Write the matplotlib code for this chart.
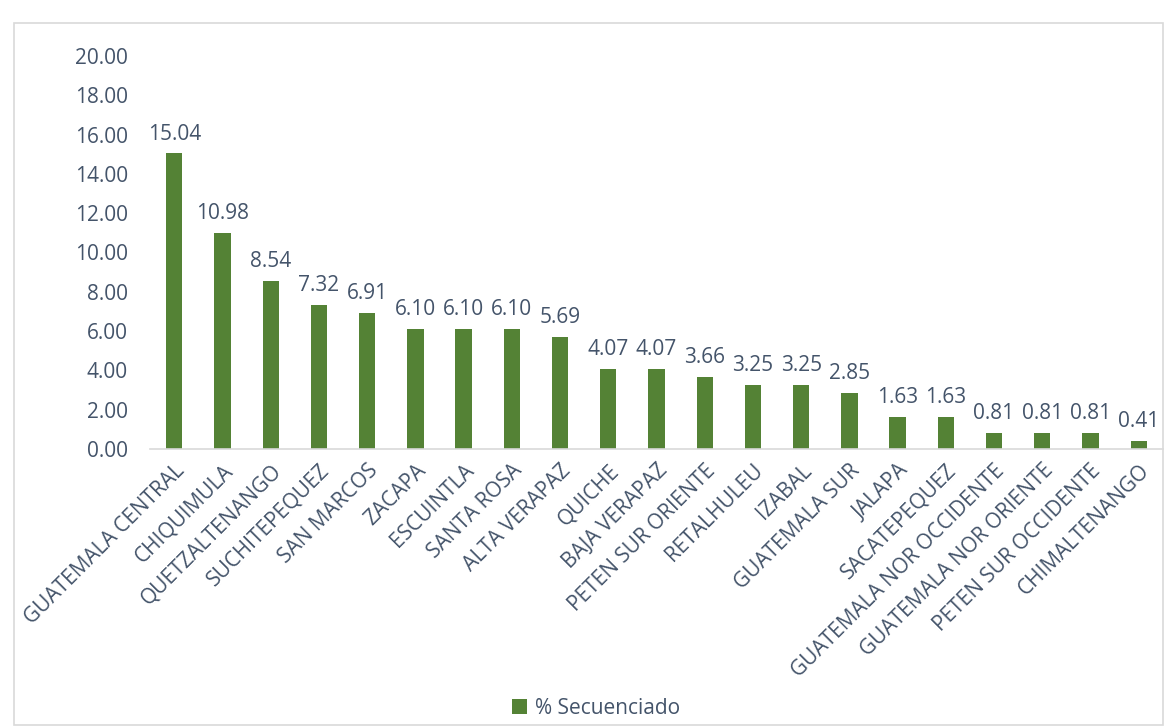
import matplotlib
matplotlib.use("Agg")
import matplotlib.pyplot as plt
from matplotlib.patches import Rectangle

categories = ["GUATEMALA CENTRAL", "CHIQUIMULA", "QUETZALTENANGO", "SUCHITEPEQUEZ",
              "SAN MARCOS", "ZACAPA", "ESCUINTLA", "SANTA ROSA", "ALTA VERAPAZ",
              "QUICHE", "BAJA VERAPAZ", "PETEN SUR ORIENTE", "RETALHULEU", "IZABAL",
              "GUATEMALA SUR", "JALAPA", "SACATEPEQUEZ", "GUATEMALA NOR OCCIDENTE",
              "GUATEMALA NOR ORIENTE", "PETEN SUR OCCIDENTE", "CHIMALTENANGO"]
values = [15.04, 10.98, 8.54, 7.32, 6.91, 6.10, 6.10, 6.10, 5.69, 4.07, 4.07,
          3.66, 3.25, 3.25, 2.85, 1.63, 1.63, 0.81, 0.81, 0.81, 0.41]
yticks = [0, 2, 4, 6, 8, 10, 12, 14, 16, 18, 20]
series_name = "% Secuenciado"

plt.rcParams['font.family'] = ['Open Sans', 'DejaVu Sans']
txt = '#44546A'
green = '#548235'
fs = 15

fig = plt.figure(figsize=(11.64, 7.27), dpi=100)
ax = fig.add_axes([0.129, 0.3824, 0.870, 0.5406])
x = list(range(len(categories)))
bars = ax.bar(x, values, width=0.34, color=green, label=series_name)
for xi, v in zip(x, values):
    ax.text(xi, v + 0.45, f"{v:.2f}", ha='center', va='bottom', fontsize=fs, color=txt)
ax.set_xlim(-0.5, len(categories) - 0.5)
ax.set_ylim(0, 20)
ax.set_yticks(yticks)
ax.set_yticklabels([f"{t:.2f}" for t in yticks], fontsize=fs, color=txt)
ax.set_xticks(x)
ax.set_xticklabels(categories, rotation=45, ha='right', rotation_mode='anchor',
                   fontsize=fs, color=txt)
ax.tick_params(axis='both', length=0)
ax.tick_params(axis='y', pad=16)
ax.tick_params(axis='x', pad=8)
for s in ['top', 'right', 'left']:
    ax.spines[s].set_visible(False)
ax.spines['bottom'].set_color('#D9D9D9')
ax.spines['bottom'].set_linewidth(1.2)

fig.legend(handles=[bars], labels=[series_name], loc='center', bbox_to_anchor=(0.512, 0.026),
           frameon=False, fontsize=fs, labelcolor=txt, handlelength=0.7, handleheight=0.7,
           handletextpad=0.4)
fig.patches.append(Rectangle((0.012, 0.003), 0.987, 0.966, transform=fig.transFigure,
                             fill=False, edgecolor='#D9D9D9', linewidth=1.2))
fig.savefig("out.png", dpi=100)
